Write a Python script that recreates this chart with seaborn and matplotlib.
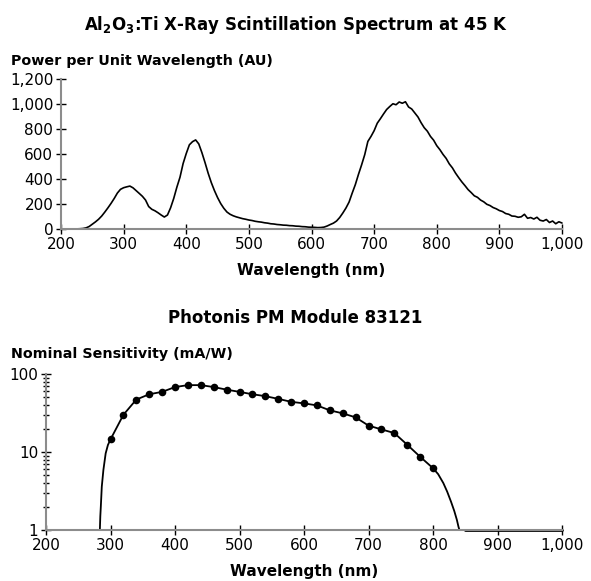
import numpy as np
import pandas as pd
import matplotlib
matplotlib.use("Agg")
import matplotlib.pyplot as plt
import matplotlib.ticker as mticker
import seaborn as sns

# Spektrum scintilasi Al2O3:Ti (tiap 5 nm)
spec_nm = np.arange(200, 1001, 5)
spec_power = [
    0, 0, 0, 0, 0, 1, 2, 4, 9, 20,
    38, 57, 78, 104, 136, 170, 206, 245, 288, 318,
    331, 338, 344, 330, 308, 285, 262, 232, 180, 158,
    146, 130, 112, 96, 112, 170, 245, 335, 415, 525,
    605, 675, 700, 714, 682, 612, 532, 447, 372, 308,
    252, 204, 166, 136, 118, 106, 97, 90, 83, 78,
    72, 68, 62, 58, 55, 50, 47, 42, 40, 36,
    34, 31, 30, 27, 26, 23, 22, 19, 18, 15,
    14, 13, 11, 12, 15, 24, 36, 47, 64, 92,
    128, 168, 216, 288, 356, 438, 514, 596, 702, 742,
    788, 848, 884, 922, 958, 982, 1004, 996, 1018, 1008,
    1020, 978, 962, 930, 898, 852, 812, 784, 742, 712,
    668, 636, 598, 566, 522, 490, 448, 412, 378, 348,
    316, 292, 266, 254, 232, 218, 198, 188, 172, 162,
    148, 140, 124, 118, 104, 102, 94, 98, 118, 86,
    92, 80, 94, 70, 64, 76, 52, 64, 42, 58,
    48,
]

# Sensitivitas nominal modul PM Photonis 83121
dot_nm = np.arange(300, 801, 20)
dot_sens = [14.5, 30, 47, 55, 59, 68, 72, 72, 68, 63, 59, 55, 52,
            48, 44, 42, 39.6, 34.2, 31.3, 27.8, 21.8, 19.5, 17.5,
            12.4, 8.7, 6.2]
left_tail_nm = [200, 283.5, 284.2, 285, 286.5, 289, 292.5, 296]
left_tail_sens = [1, 1, 1.5, 2.0, 3.6, 5.9, 9.6, 12.3]
right_tail_nm = [808, 816, 822, 828, 833, 837, 839.5, 841]
right_tail_sens = [5.2, 4.0, 3.1, 2.3, 1.75, 1.35, 1.1, 1.0]
flat_nm = [850, 1000]
flat_sens = [1, 1]

x_ticks = [200, 300, 400, 500, 600, 700, 800, 900, 1000]

sns.set_style("ticks")
plt.rcParams['font.family'] = ['DejaVu Sans']
plt.rcParams['mathtext.fontset'] = 'dejavusans'
plt.rcParams['text.color'] = 'black'
plt.rcParams['axes.labelcolor'] = 'black'
plt.rcParams['xtick.color'] = 'black'
plt.rcParams['ytick.color'] = 'black'

fig = plt.figure(figsize=(5.91, 5.81), dpi=100)
W, H = 591, 581

def style_axis(ax):
    for s in ["top", "right"]:
        ax.spines[s].set_visible(False)
    for s in ["left", "bottom"]:
        ax.spines[s].set_color("#8c8c8c")
        ax.spines[s].set_linewidth(1.5)
    ax.tick_params(which="major", direction="inout", length=7, width=1,
                   color="black", labelcolor="black", labelsize=11, pad=2,
                   bottom=True, left=True)
    ax.tick_params(which="minor", direction="inout", length=5, width=1,
                   color="black", left=True)
    ax.set_xlim(200, 1000)
    ax.set_xticks(x_ticks)
    ax.xaxis.set_major_formatter(mticker.FuncFormatter(lambda v, p: f"{v:,.0f}"))
    ax.set_xlabel("Wavelength (nm)", fontsize=11, fontweight="bold",
                  labelpad=8, color="black")

# --- panel atas ---
ax1 = fig.add_axes([61 / W, 1 - 229 / H, 501 / W, 149.7 / H])
df1 = pd.DataFrame({"nm": spec_nm, "power": spec_power})
sns.lineplot(data=df1, x="nm", y="power", ax=ax1, color="black",
             linewidth=1.2, estimator=None, sort=False, clip_on=False)
style_axis(ax1)
ax1.set_ylim(0, 1200)
ax1.set_yticks(range(0, 1201, 200))
ax1.yaxis.set_major_formatter(mticker.FuncFormatter(lambda v, p: f"{v:,.0f}"))
ax1.set_ylabel("")

fig.text(295.5 / W, 1 - 30 / H,
         r"Al$_\mathbf{2}$O$_\mathbf{3}$:Ti X-Ray Scintillation Spectrum at 45 K",
         ha="center", va="baseline", fontsize=12, fontweight="bold")
fig.text(11 / W, 1 - 65 / H, "Power per Unit Wavelength (AU)",
         ha="left", va="baseline", fontsize=10.3, fontweight="bold")

# --- panel bawah ---
ax2 = fig.add_axes([46 / W, 1 - 530 / H, 516 / W, 156 / H])
curve = pd.DataFrame({
    "nm": list(left_tail_nm) + list(dot_nm) + list(right_tail_nm),
    "sens": list(left_tail_sens) + list(dot_sens) + list(right_tail_sens),
})
sns.lineplot(data=curve, x="nm", y="sens", ax=ax2, color="black",
             linewidth=1.3, estimator=None, sort=False, clip_on=False)
sns.lineplot(x=flat_nm, y=flat_sens, ax=ax2, color="black",
             linewidth=2, estimator=None, clip_on=False)
sns.scatterplot(x=dot_nm, y=dot_sens, ax=ax2, color="black", s=30,
                edgecolor="black", linewidth=0, zorder=5)
ax2.set_yscale("log")
style_axis(ax2)
ax2.set_ylim(1, 100)
ax2.set_yticks([1, 10, 100])
ax2.set_yticklabels(["1", "10", "100"])
ax2.yaxis.set_minor_locator(mticker.LogLocator(base=10, subs=range(2, 10)))
ax2.yaxis.set_minor_formatter(mticker.NullFormatter())
ax2.set_ylabel("")

fig.text(295.5 / W, 1 - 323 / H, "Photonis PM Module 83121",
         ha="center", va="baseline", fontsize=12, fontweight="bold")
fig.text(11 / W, 1 - 358 / H, "Nominal Sensitivity (mA/W)",
         ha="left", va="baseline", fontsize=10.3, fontweight="bold")

fig.savefig("out.png", dpi=100)
